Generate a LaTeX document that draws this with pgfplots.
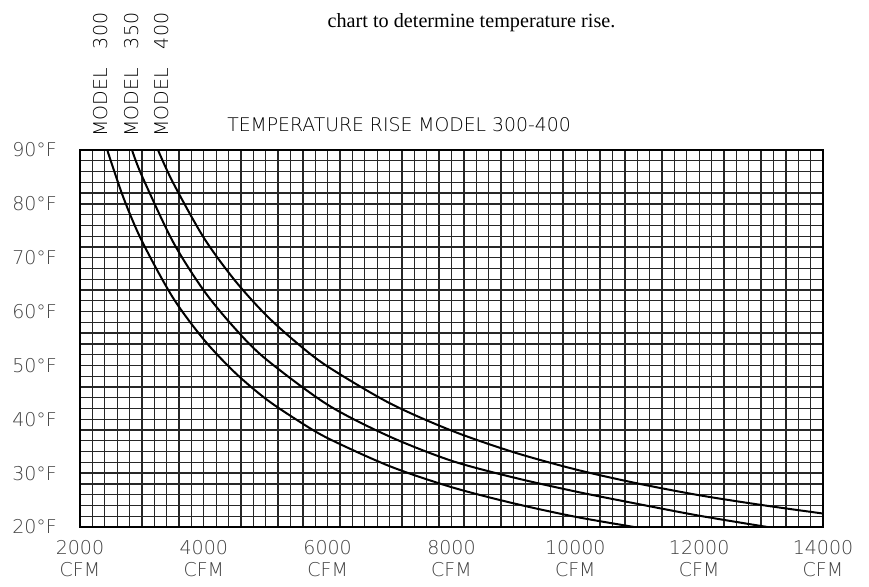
\documentclass[border=0pt]{standalone}
\usepackage{fontspec}
\usepackage{pgfplots}
\pgfplotsset{compat=1.18}
\setmainfont{Liberation Serif}
\newfontfamily\cad{DejaVu Sans ExtraLight}

\begin{document}
\begin{tikzpicture}
\path[use as bounding box] (0pt,0pt) rectangle (434.5pt,-293.5pt);

\node[font=\fontsize{10.1}{12}\selectfont, anchor=base] at (235.75pt,-14pt) {chart to determine temperature rise.};
\node[font=\cad\fontsize{9.4}{11}\selectfont, anchor=base] at (199.5pt,-66pt) {TEMPERATURE RISE MODEL 300-400};
\node[font=\cad\fontsize{9.5}{11}\selectfont, rotate=90, anchor=base west, inner sep=0pt] at (53.5pt,-68.5pt) {MODEL\hspace{9.5pt}300};
\node[font=\cad\fontsize{9.5}{11}\selectfont, rotate=90, anchor=base west, inner sep=0pt] at (69pt,-68.5pt) {MODEL\hspace{9.5pt}350};
\node[font=\cad\fontsize{9.5}{11}\selectfont, rotate=90, anchor=base west, inner sep=0pt] at (84pt,-68.5pt) {MODEL\hspace{9.5pt}400};

\begin{axis}[
  at={(40pt,-263.5pt)}, anchor=south west,
  scale only axis, width=371.5pt, height=188.5pt,
  xmin=2000, xmax=14000, ymin=20, ymax=90,
  xtick={2000,4000,6000,8000,10000,12000,14000},
  xticklabels={{2000\\CFM},{4000\\CFM},{6000\\CFM},{8000\\CFM},{10000\\CFM},{12000\\CFM},{14000\\CFM}},
  ytick={20,30,40,50,60,70,80,90},
  yticklabels={20°F,30°F,40°F,50°F,60°F,70°F,80°F,90°F},
  minor x tick num=9, minor y tick num=4,
  major tick length=0pt, minor tick length=0pt,
  grid=both,
  grid style={black!85, line width=0.65pt},
  minor grid style={black!85, line width=0.65pt},
  axis line style={black, line width=0.8pt},
  ticklabel style={font=\cad\fontsize{9.5}{11}\selectfont, text=black!75},
  x tick label style={align=center, yshift=-3pt},
  y tick label style={xshift=-8pt},
]
% Model 300
\addplot[black, line width=1pt, smooth] coordinates {
  (2440,90) (2700,81.2) (3000,73.1) (3500,62.6) (4000,54.8) (4500,48.7)
  (5000,43.8) (5500,39.9) (6000,36.5) (7000,31.3) (8000,27.4) (9000,24.4)
  (10000,21.9) (10950,20)
};
% Model 350
\addplot[black, line width=1pt, smooth] coordinates {
  (2840,90) (3000,85.2) (3500,73.0) (4000,63.9) (4500,56.9) (5000,51.2)
  (6000,42.7) (7000,36.8) (8000,32.3) (9000,29.2) (10000,26.6) (11000,24.3)
  (12000,22.1) (13100,20)
};
% Model 400
\addplot[black, line width=1pt, smooth] coordinates {
  (3260,90) (3500,84.0) (4000,73.7) (4500,65.8) (5000,59.4) (5500,54.2)
  (6000,49.8) (7000,43.0) (8000,37.9) (9000,33.9) (10000,30.7) (11000,28.1)
  (12000,25.9) (13000,24.1) (14000,22.5)
};
\end{axis}
\end{tikzpicture}
\end{document}
